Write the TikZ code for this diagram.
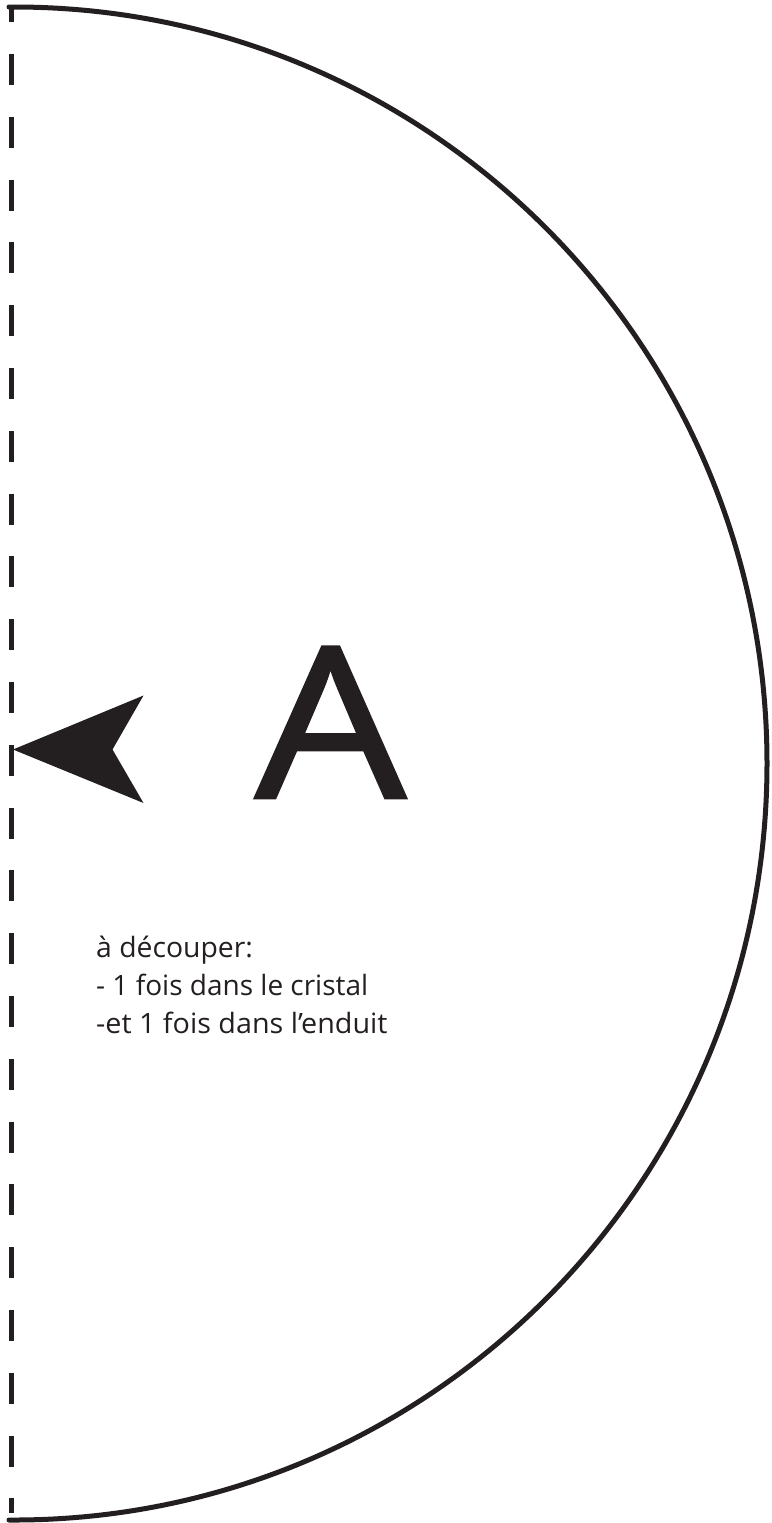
\documentclass[tikz,border=0pt]{standalone}
\usepackage{fontspec}
\setmainfont{Open Sans}
\newfontfamily\heavyfont[FakeBold=1.2]{Open Sans}
\definecolor{ink}{HTML}{231F20}
\tikzset{
  outline/.style={draw=ink,line width=5pt},
  cutline/.style={draw=ink,line width=5pt,dash pattern=on 31pt off 31.8pt,dash phase=15.8pt},
  pointer/.style={fill=ink,draw=none},
  caption/.style={text=ink,inner sep=0pt,anchor=base west,font=\fontsize{28}{36}\selectfont},
  bigletter/.style={text=ink,inner sep=0pt,anchor=base,font=\heavyfont\fontsize{211}{211}\selectfont,xscale=1.13}
}
\begin{document}
\begin{tikzpicture}[x=1pt,y=-1pt]
\useasboundingbox (0,0) rectangle (771,1523);
\fill[white] (0,0) rectangle (771,1523);
\coordinate (top) at (11,7);
\coordinate (bottom) at (11,1513);
\draw[cutline] (top) -- (bottom);
\draw[outline,line cap=round] (9,7) -- (14,7) arc[start angle=-90,end angle=90,x radius=753,y radius=756.5] -- (9,1520);
\fill[pointer] (13,749.5) -- (143.5,695.5) -- (112.5,749.5) -- (143.5,803) -- cycle;
\node[bigletter] (letter) at (330.5,798) {A};
\node[caption,xscale=1.012] (l1) at (96,957) {à découper:};
\node[caption] (l2) at (96,995) {- 1 fois dans le cristal};
\node[caption,xscale=1.025] (l3) at (96,1033) {-et 1 fois dans l’enduit};
\end{tikzpicture}
\end{document}
